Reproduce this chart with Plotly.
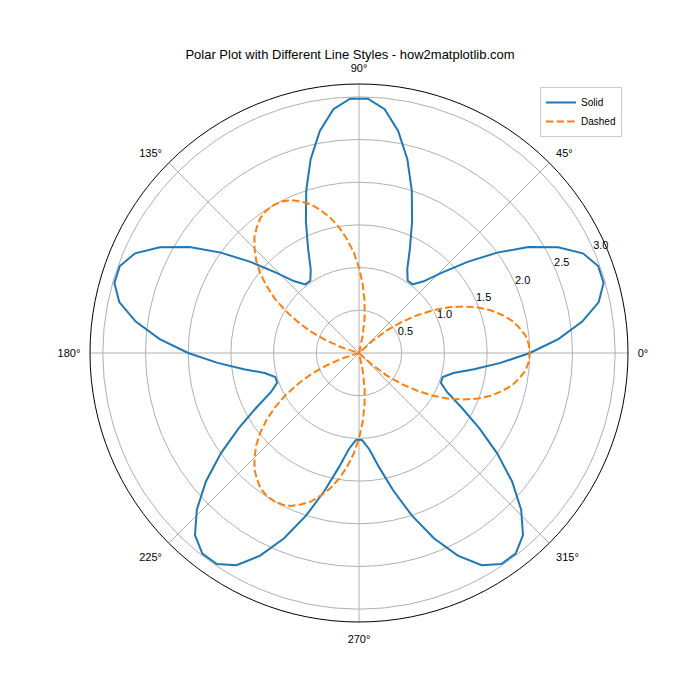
import plotly.graph_objects as go

# Solid curve: theta (deg) every 4 degrees, radius values
theta_solid = list(range(0, 361, 4))
r_solid = [
    2.00, 2.34, 2.64, 2.87, 2.98, 2.98, 2.87, 2.64, 2.34, 2.00, 1.66, 1.36, 1.13, 1.02, 1.02, 1.13, 1.36, 1.66,
    2.00, 2.34, 2.64, 2.87, 2.98, 2.98, 2.87, 2.64, 2.34, 2.00, 1.66, 1.36, 1.13, 1.02, 1.02, 1.13, 1.36, 1.66,
    2.00, 2.34, 2.64, 2.87, 2.98, 2.98, 2.87, 2.64, 2.34, 2.00, 1.66, 1.36, 1.13, 1.02, 1.02, 1.13, 1.36, 1.66,
    2.00, 2.34, 2.64, 2.87, 2.98, 2.98, 2.87, 2.64, 2.34, 2.00, 1.66, 1.36, 1.13, 1.02, 1.02, 1.13, 1.36, 1.66,
    2.00, 2.34, 2.64, 2.87, 2.98, 2.98, 2.87, 2.64, 2.34, 2.00, 1.66, 1.36, 1.13, 1.02, 1.02, 1.13, 1.36, 1.66,
    2.00,
]

# Dashed curve: three petals (centres 0, 120, 240 deg)
theta_dashed = (
    list(range(-45, 46, 3)) + list(range(75, 166, 3)) + list(range(195, 286, 3))
)
r_dashed = [
    0.00, 0.21, 0.42, 0.62, 0.81, 1.00, 1.18, 1.34, 1.49, 1.62, 1.73, 1.83, 1.90, 1.96, 1.99, 2.00,
    1.99, 1.96, 1.90, 1.83, 1.73, 1.62, 1.49, 1.34, 1.18, 1.00, 0.81, 0.62, 0.42, 0.21, 0.00,
    0.00, 0.21, 0.42, 0.62, 0.81, 1.00, 1.18, 1.34, 1.49, 1.62, 1.73, 1.83, 1.90, 1.96, 1.99, 2.00,
    1.99, 1.96, 1.90, 1.83, 1.73, 1.62, 1.49, 1.34, 1.18, 1.00, 0.81, 0.62, 0.42, 0.21, 0.00,
    0.00, 0.21, 0.42, 0.62, 0.81, 1.00, 1.18, 1.34, 1.49, 1.62, 1.73, 1.83, 1.90, 1.96, 1.99, 2.00,
    1.99, 1.96, 1.90, 1.83, 1.73, 1.62, 1.49, 1.34, 1.18, 1.00, 0.81, 0.62, 0.42, 0.21, 0.00,
]

radial_ticks = [0.5, 1.0, 1.5, 2.0, 2.5, 3.0]
radial_tick_labels = ["0.5", "1.0", "1.5", "2.0", "2.5", "3.0"]
radial_max = 3.15
label_angle = 23.8
label_pad = 0.095
title_text = "Polar Plot with Different Line Styles - how2matplotlib.com"

FONT = "Liberation Sans"

fig = go.Figure()
fig.add_trace(go.Scatterpolar(r=r_solid, theta=theta_solid, mode="lines", name="Solid",
                              line=dict(color="#1f77b4", width=2)))
fig.add_trace(go.Scatterpolar(r=r_dashed, theta=theta_dashed, mode="lines", name="Dashed",
                              line=dict(color="#ff7f0e", width=2, dash="7.4px,3.2px")))
# radial tick labels, horizontal, centred just outside each ring (matplotlib style)
fig.add_trace(go.Scatterpolar(r=[v + label_pad for v in radial_ticks],
                              theta=[label_angle] * len(radial_ticks),
                              mode="text", text=radial_tick_labels,
                              textposition="middle center",
                              textfont=dict(family=FONT, size=11, color="black"),
                              showlegend=False, hoverinfo="skip"))

fig.update_layout(
    width=700, height=700,
    margin=dict(l=0, r=0, t=0, b=0),
    paper_bgcolor="white",
    font=dict(family=FONT, size=11, color="black"),
    title=dict(text=title_text, x=0.5, xanchor="center", y=1 - 54 / 700, yanchor="middle",
               font=dict(family=FONT, size=13, color="black")),
    showlegend=True,
    legend=dict(x=622 / 700, xanchor="right", y=1 - 87 / 700, yanchor="top",
                bgcolor="white", bordercolor="#cccccc", borderwidth=1,
                font=dict(family=FONT, size=10)),
    polar=dict(
        domain=dict(x=[90 / 700, 628 / 700], y=[78 / 700, 616 / 700]),
        bgcolor="white",
        radialaxis=dict(range=[0, radial_max], tickvals=radial_ticks,
                        showticklabels=False, angle=22.5,
                        showline=False, ticks="",
                        gridcolor="#b0b0b0", gridwidth=0.8),
        angularaxis=dict(direction="counterclockwise", rotation=0, dtick=45,
                         showline=True, linecolor="black", linewidth=1,
                         gridcolor="#b0b0b0", gridwidth=0.8,
                         ticks="outside", ticklen=7, tickcolor="rgba(0,0,0,0)",
                         tickfont=dict(family=FONT, size=11, color="black")),
    ),
)

fig.write_html("out.html")
